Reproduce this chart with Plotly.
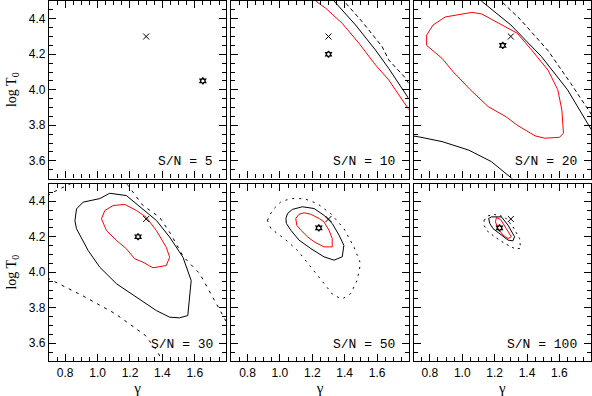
import plotly.graph_objects as go
from plotly.subplots import make_subplots

# ------------------------------------------------------------
# data (gamma, log T0)
# ------------------------------------------------------------
sn_labels = ["S/N = 5", "S/N = 10", "S/N = 20", "S/N = 30", "S/N = 50", "S/N = 100"]

true_g = [1.30, 1.30, 1.30, 1.30, 1.30, 1.30]
true_t = [4.30, 4.30, 4.30, 4.30, 4.30, 4.30]

best_g = [1.65, 1.30, 1.25, 1.25, 1.24, 1.23]
best_t = [4.05, 4.20, 4.25, 4.20, 4.25, 4.25]

# panel 2  (S/N = 10)
p2_red_g = [1.21, 1.221, 1.283, 1.385, 1.488, 1.59, 1.672, 1.783, 1.81]
p2_red_t = [4.52, 4.50, 4.459, 4.374, 4.262, 4.14, 4.055, 3.903, 3.87]
p2_sol_g = [1.32, 1.334, 1.467, 1.59, 1.672, 1.783, 1.81]
p2_sol_t = [4.52, 4.50, 4.365, 4.224, 4.12, 3.97, 3.93]
p2_das_g = [1.385, 1.395, 1.508, 1.631, 1.672, 1.771, 1.80]
p2_das_t = [4.52, 4.50, 4.383, 4.243, 4.168, 4.07, 4.03]

# panel 3  (S/N = 20)
p3_red_g = [0.78, 0.82, 0.895, 1.06, 1.12, 1.24, 1.34, 1.42, 1.53, 1.59, 1.615, 1.625,
            1.60, 1.51, 1.45, 1.34, 1.27, 1.16, 1.05, 0.945, 0.875, 0.78, 0.78]
p3_red_t = [4.308, 4.365, 4.41, 4.436, 4.427, 4.365, 4.318, 4.233, 4.11, 4.0, 3.886, 3.755,
            3.732, 3.727, 3.74, 3.80, 3.848, 3.905, 4.0, 4.10, 4.177, 4.25, 4.308]
p3_sol_g = [1.10, 1.118, 1.30, 1.49, 1.65, 1.795, 1.82]
p3_sol_t = [4.52, 4.50, 4.365, 4.186, 4.0, 3.78, 3.74]
p3_low_g = [0.69, 0.73, 0.875, 1.04, 1.18, 1.30, 1.32]
p3_low_t = [3.74, 3.735, 3.708, 3.66, 3.595, 3.51, 3.49]
p3_das_g = [1.22, 1.24, 1.365, 1.53, 1.67, 1.795, 1.82]
p3_das_t = [4.52, 4.50, 4.39, 4.22, 4.036, 3.867, 3.83]

# panel 4  (S/N = 30)
p4_red_g = [1.024, 1.045, 1.096, 1.168, 1.24, 1.30, 1.363, 1.424, 1.445, 1.424, 1.342,
            1.28, 1.229, 1.178, 1.117, 1.055, 1.024]
p4_red_t = [4.301, 4.348, 4.376, 4.382, 4.348, 4.31, 4.235, 4.141, 4.085, 4.038, 4.025,
            4.057, 4.076, 4.132, 4.179, 4.235, 4.301]
p4_sol_g = [0.87, 0.911, 1.014, 1.075, 1.178, 1.30, 1.363, 1.445, 1.527, 1.578, 1.568, 1.557,
            1.506, 1.445, 1.363, 1.24, 1.117, 1.014, 0.942, 0.87, 0.86, 0.87]
p4_sol_t = [4.357, 4.395, 4.415, 4.445, 4.432, 4.338, 4.292, 4.198, 4.085, 3.953, 3.859, 3.756,
            3.743, 3.747, 3.784, 3.859, 3.935, 4.028, 4.122, 4.245, 4.29, 4.357]
p4_dsa_g = [0.69, 0.727, 0.81, 0.86, 0.95]
p4_dsa_t = [4.43, 4.451, 4.489, 4.51, 4.53]
p4_dsb_g = [1.15, 1.188, 1.28, 1.383, 1.45, 1.53, 1.63, 1.711, 1.783, 1.82]
p4_dsb_t = [4.53, 4.489, 4.376, 4.31, 4.218, 4.087, 3.993, 3.862, 3.749, 3.68]
p4_dsc_g = [0.69, 0.70, 0.905, 1.11, 1.295, 1.365, 1.42]
p4_dsc_t = [3.968, 3.963, 3.869, 3.766, 3.644, 3.559, 3.47]

# panel 5  (S/N = 50)
p5_red_g = [1.098, 1.118, 1.149, 1.19, 1.242, 1.272, 1.303, 1.323, 1.323, 1.272, 1.211,
            1.17, 1.129, 1.104, 1.098]
p5_red_t = [4.303, 4.327, 4.335, 4.327, 4.303, 4.284, 4.237, 4.19, 4.143, 4.143, 4.172,
            4.20, 4.237, 4.265, 4.303]
p5_sol_g = [1.037, 1.047, 1.077, 1.139, 1.211, 1.272, 1.323, 1.365, 1.395, 1.385, 1.334,
            1.272, 1.19, 1.118, 1.067, 1.04, 1.037]
p5_sol_t = [4.303, 4.331, 4.354, 4.369, 4.359, 4.321, 4.275, 4.209, 4.152, 4.087, 4.068,
            4.087, 4.134, 4.181, 4.237, 4.275, 4.303]
p5_dot_g = [0.923, 0.954, 1.006, 1.067, 1.149, 1.231, 1.313, 1.395, 1.457, 1.498, 1.477,
            1.437, 1.385, 1.33, 1.272, 1.19, 1.108, 1.026, 0.944, 0.923]
p5_dot_t = [4.293, 4.35, 4.397, 4.415, 4.415, 4.387, 4.331, 4.246, 4.143, 4.049, 3.955,
            3.88, 3.85, 3.87, 3.937, 4.031, 4.124, 4.19, 4.246, 4.293]

# panel 6  (S/N = 100)
p6_red_g = [1.211, 1.237, 1.272, 1.303, 1.283, 1.252, 1.221, 1.205, 1.211]
p6_red_t = [4.308, 4.297, 4.246, 4.20, 4.19, 4.209, 4.246, 4.284, 4.308]
p6_sol_g = [1.163, 1.18, 1.242, 1.283, 1.323, 1.313, 1.283, 1.231, 1.19, 1.17, 1.163]
p6_sol_t = [4.303, 4.312, 4.312, 4.265, 4.20, 4.177, 4.181, 4.218, 4.246, 4.275, 4.303]
p6_dot_g = [1.135, 1.16, 1.20, 1.262, 1.313, 1.354, 1.36, 1.323, 1.262, 1.20, 1.149, 1.135, 1.135]
p6_dot_t = [4.293, 4.318, 4.325, 4.312, 4.256, 4.19, 4.134, 4.134, 4.162, 4.20, 4.237, 4.265, 4.293]

# (panel, x, y, colour, dash)
curves = [
    (2, p2_red_g, p2_red_t, "red", "solid"),
    (2, p2_sol_g, p2_sol_t, "black", "solid"),
    (2, p2_das_g, p2_das_t, "black", "4px,3px"),
    (3, p3_red_g, p3_red_t, "red", "solid"),
    (3, p3_sol_g, p3_sol_t, "black", "solid"),
    (3, p3_low_g, p3_low_t, "black", "solid"),
    (3, p3_das_g, p3_das_t, "black", "4px,3px"),
    (4, p4_red_g, p4_red_t, "red", "solid"),
    (4, p4_sol_g, p4_sol_t, "black", "solid"),
    (4, p4_dsa_g, p4_dsa_t, "black", "3px,5px"),
    (4, p4_dsb_g, p4_dsb_t, "black", "3px,5px"),
    (4, p4_dsc_g, p4_dsc_t, "black", "3px,5px"),
    (5, p5_red_g, p5_red_t, "red", "solid"),
    (5, p5_sol_g, p5_sol_t, "black", "solid"),
    (5, p5_dot_g, p5_dot_t, "black", "2px,5px"),
    (6, p6_red_g, p6_red_t, "red", "solid"),
    (6, p6_sol_g, p6_sol_t, "black", "solid"),
    (6, p6_dot_g, p6_dot_t, "black", "2px,4px"),
]

# ------------------------------------------------------------
# figure
# ------------------------------------------------------------
fig = make_subplots(rows=2, cols=3,
                    horizontal_spacing=5 / 542, vertical_spacing=5 / 360)

def rc(p):
    return (p - 1) // 3 + 1, (p - 1) % 3 + 1

for p, gx, ty, col, dash in curves:
    r, c = rc(p)
    fig.add_trace(go.Scatter(x=gx, y=ty, mode="lines",
                             line=dict(color=col, width=1, dash=dash),
                             showlegend=False, hoverinfo="skip"), row=r, col=c)

for i in range(6):
    r, c = rc(i + 1)
    fig.add_trace(go.Scatter(x=[true_g[i]], y=[true_t[i]], mode="markers",
                             marker=dict(symbol="x-thin", size=6, color="black",
                                         line=dict(color="black", width=1)),
                             showlegend=False), row=r, col=c)
    fig.add_trace(go.Scatter(x=[best_g[i]], y=[best_t[i]], mode="markers",
                             marker=dict(symbol="hexagram-open", size=5, color="black",
                                         line=dict(color="black", width=1.3)),
                             showlegend=False), row=r, col=c)
    fig.add_annotation(text=sn_labels[i], xref="x domain" if i == 0 else f"x{i+1} domain",
                       yref="y domain" if i == 0 else f"y{i+1} domain",
                       x=0.935, y=0.095, xanchor="right", yanchor="middle",
                       showarrow=False,
                       font=dict(family="Liberation Mono", size=13, color="black"))

axis_style = dict(showline=True, linecolor="black", linewidth=1.2, mirror="ticks",
                  ticks="inside", ticklen=7, tickwidth=1, tickcolor="black",
                  showgrid=False, zeroline=False, dtick=0.2, tickformat=".1f",
                  minor=dict(ticks="inside", dtick=0.05, ticklen=4, tickwidth=1,
                             tickcolor="black", showgrid=False),
                  tickfont=dict(family="Liberation Sans", size=12, color="black"))

for i in range(6):
    r, c = rc(i + 1)
    fig.update_xaxes(axis_style, range=[0.7, 1.795], showticklabels=(r == 2),
                     row=r, col=c)
    fig.update_yaxes(axis_style, range=[3.5, 4.5], showticklabels=(c == 1),
                     row=r, col=c)
    if r == 2:
        fig.update_xaxes(title=dict(text="γ", standoff=2,
                                    font=dict(family="Liberation Serif", size=15, color="black")),
                         row=r, col=c)
    if c == 1:
        fig.update_yaxes(title=dict(text="log T<sub>0</sub>", standoff=8,
                                    font=dict(family="Liberation Serif", size=14, color="black")),
                         row=r, col=c)

fig.update_layout(width=592, height=396, margin=dict(l=49, r=1, t=1, b=35),
                  plot_bgcolor="white", paper_bgcolor="white")

fig.write_html("out.html", config={"displayModeBar": False},
               post_script="document.body.style.margin='0px';")
